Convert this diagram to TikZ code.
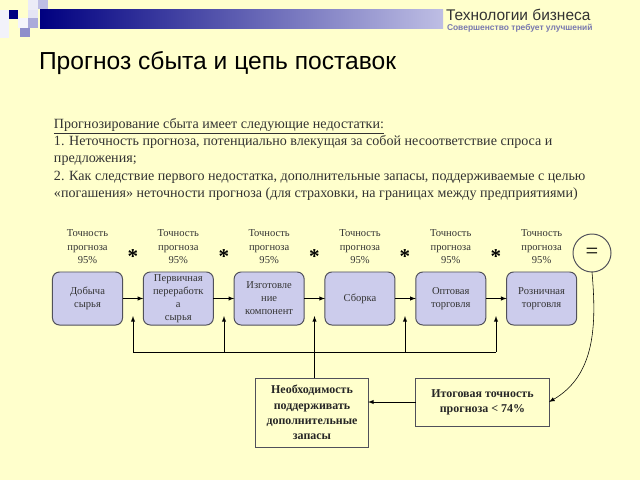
\documentclass[tikz,border=0pt]{standalone}
\usepackage{fontspec}
\setmainfont{Liberation Serif}
\newfontfamily\headfont{Liberation Sans}
\usetikzlibrary{positioning}

\definecolor{slidebg}{RGB}{255,255,204}
\definecolor{barnavy}{RGB}{0,0,128}
\definecolor{barlight}{RGB}{190,190,228}
\definecolor{stagefill}{RGB}{204,204,236}
\definecolor{stageline}{RGB}{80,80,90}
\definecolor{subtitle}{RGB}{120,120,175}

\begin{document}
\begin{tikzpicture}[x=0.025cm, y=-0.025cm, inner sep=0, outer sep=0,
    stage/.style={rectangle, rounded corners=5pt, draw=stageline, fill=stagefill,
      line width=0.7pt, align=center, minimum width=1.75cm, minimum height=1.325cm,
      font=\fontsize{7.5}{9.3}\selectfont, text=black!80},
    accuracy/.style={align=center, font=\fontsize{7.5}{9.6}\selectfont, text=black!80},
    times/.style={font=\fontsize{15}{15}\selectfont\bfseries},
    result/.style={rectangle, draw=stageline, line width=0.7pt, align=center,
      font=\fontsize{8.5}{10.8}\selectfont\bfseries, text=black!85},
    >=latex]

  % slide background
  \fill[slidebg] (0,0) rectangle (640,480);
  \useasboundingbox (0,0) rectangle (640,480);

  % header decoration
  \fill[white!80!barlight] (0,10) rectangle (9,38);
  \fill[barnavy] (9,10) rectangle (18,19);
  \fill[white!70!barlight] (28,0) rectangle (38,10);
  \fill[barlight] (38,0) rectangle (48,9);
  \fill[white!60!barlight] (28,10) rectangle (38,18);
  \fill[white!85!barlight] (18,18) rectangle (28,28);
  \fill[barlight!90!barnavy] (28,18) rectangle (38,28);
  \fill[barlight!75!barnavy] (20,28) rectangle (30,37);
  \shade[left color=barnavy, right color=barlight] (40,9) rectangle (443,28);
  \node[anchor=base west, font=\headfont\fontsize{11}{12}\selectfont, text=black!80] (brand) at (446,21) {Технологии бизнеса};
  \node[anchor=base west, font=\headfont\fontsize{6}{6}\selectfont\bfseries, text=subtitle] (motto) at (447,31) {Совершенство требует улучшений};

  \node[anchor=base west, font=\headfont\fontsize{17.5}{18}\selectfont, text=black] (title) at (39,69) {Прогноз сбыта и цепь поставок};

  \node[anchor=north west, align=left, font=\fontsize{10}{12.4}\selectfont, text=black!80] (intro) at (54,118)
    {\underline{Прогнозирование сбыта имеет следующие недостатки:}\\
     1. Неточность прогноза, потенциально влекущая за собой несоответствие спроса и\\
     предложения;\\
     2. Как следствие первого недостатка, дополнительные запасы, поддерживаемые с целью\\
     «погашения» неточности прогноза (для страховки, на границах между предприятиями)};

  % supply chain
  \node[stage] (mining) at (87.5,298.5) {Добыча\\сырья};
  \node[stage, right=0.52cm of mining] (processing) {Первичная\\переработк\\а\\сырья};
  \node[stage, right=0.52cm of processing] (parts) {Изготовле\\ние\\компонент};
  \node[stage, right=0.52cm of parts] (assembly) {Сборка};
  \node[stage, right=0.52cm of assembly] (wholesale) {Оптовая\\торговля};
  \node[stage, right=0.52cm of wholesale] (retail) {Розничная\\торговля};

  \foreach \s in {mining, processing, parts, assembly, wholesale, retail}
    \node[accuracy, above=0.2cm of \s] (acc-\s) {Точность\\прогноза\\95\%};

  \draw[->] (mining) -- (processing);
  \draw[->] (processing) -- (parts);
  \draw[->] (parts) -- (assembly);
  \draw[->] (assembly) -- (wholesale);
  \draw[->] (wholesale) -- (retail);

  \node[times] (mult1) at (133,257) {*};
  \node[times] (mult2) at (224,257) {*};
  \node[times] (mult3) at (314.5,257) {*};
  \node[times] (mult4) at (405,257) {*};
  \node[times] (mult5) at (496,257) {*};
  \node[circle, draw=stageline, line width=0.7pt, minimum size=0.95cm,
    font=\fontsize{16}{16}\selectfont] (equals) at (592,253) {=};

  % stock feedback
  \coordinate (fb1) at (133,316);
  \coordinate (fb2) at (224,316);
  \coordinate (fb3) at (314.5,316);
  \coordinate (fb4) at (405,316);
  \coordinate (fb5) at (496,316);
  \coordinate (fbleft) at (133,352);
  \coordinate (fbright) at (496,352);
  \draw (fbleft) -- (fbright);
  \foreach \i in {1,...,5}
    \draw[->] (fb\i |- fbleft) -- (fb\i);

  \node[result, minimum width=2.8cm, minimum height=1.725cm] (stock) at (312,412.5)
    {Необходимость\\поддерживать\\дополнительные\\запасы};
  \node[result, minimum width=3.325cm, minimum height=1.2cm] (total) at (482.5,402)
    {Итоговая точность\\прогноза < 74\%};

  \draw (fb3 |- fbleft) -- (stock.north -| fb3);
  \draw[->] (total.west) -- (total.west -| stock.east);
  \draw[->] (equals.south) to[out=-85, in=30] (total.east);
\end{tikzpicture}
\end{document}
